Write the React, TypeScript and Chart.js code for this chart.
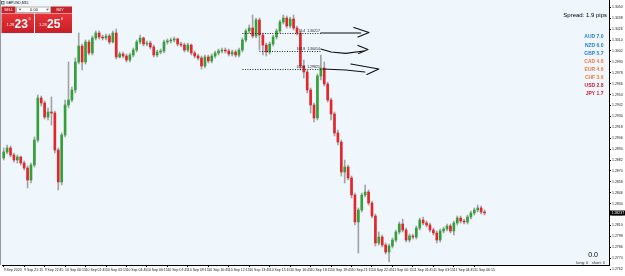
import React, { useEffect, useRef } from 'react';
import { Chart, registerables } from 'chart.js';

Chart.register(...registerables);

const FONT = '"Liberation Sans", Arial, sans-serif';

// ---- data (GBPUSD, M15) ----
const opens = [
  1.28842, 1.28908, 1.28952, 1.28875, 1.28820, 1.28853, 1.28787, 1.28732, 1.28600, 1.28765,
  1.29040, 1.29502, 1.29447, 1.29293, 1.29348, 1.29337, 1.28930, 1.28578, 1.29095, 1.29425,
  1.29480, 1.29590, 1.29898, 1.30074, 1.29898, 1.30118, 1.29997, 1.30162, 1.30217, 1.30173,
  1.30162, 1.30184, 1.30118, 1.30217, 1.29953, 1.29986, 1.29964, 1.29920, 1.29975, 1.30030,
  1.30118, 1.30162, 1.30096, 1.30107, 1.30063, 1.29975, 1.30008, 1.30019, 1.30118, 1.30129,
  1.30140, 1.30151, 1.30096, 1.30085, 1.30030, 1.30085, 1.29997, 1.29964, 1.29942, 1.29854,
  1.29953, 1.29909, 1.29964, 1.29997, 1.30019, 1.30030, 1.30019, 1.29986, 1.30008, 1.29975,
  1.30030, 1.30140, 1.30239, 1.30272, 1.30184, 1.30360, 1.30195, 1.30085, 1.30008, 1.30096,
  1.30173, 1.30239, 1.30338, 1.30382, 1.30294, 1.30371, 1.30272, 1.30217, 1.29854, 1.29788,
  1.29590, 1.29425, 1.29282, 1.29744, 1.29832, 1.29656, 1.29480, 1.29326, 1.29117, 1.29018,
  1.28688, 1.28743, 1.28622, 1.28435, 1.28138, 1.28270, 1.28435, 1.28468, 1.28347, 1.28204,
  1.27907, 1.27973, 1.27885, 1.27808, 1.27874, 1.27940, 1.28028, 1.28116, 1.28050, 1.27940,
  1.27984, 1.27973, 1.28072, 1.28160, 1.28127, 1.28105, 1.28050, 1.28017, 1.27940, 1.28039,
  1.28061, 1.28094, 1.28039, 1.28127, 1.28182, 1.28149, 1.28138, 1.28193, 1.28237, 1.28270,
  1.28292, 1.28248,
];
const highs = [
  1.28952, 1.28985, 1.28974, 1.28897, 1.28875, 1.28864, 1.28809, 1.28754, 1.28787, 1.29073,
  1.29535, 1.29524, 1.29469, 1.29392, 1.29513, 1.29359, 1.28952, 1.29117, 1.29480, 1.29898,
  1.29623, 1.29942, 1.30217, 1.30096, 1.30140, 1.30140, 1.30184, 1.30239, 1.30239, 1.30195,
  1.30206, 1.30206, 1.30239, 1.30261, 1.30008, 1.30008, 1.29986, 1.29997, 1.30052, 1.30140,
  1.30195, 1.30173, 1.30129, 1.30129, 1.30085, 1.30030, 1.30041, 1.30140, 1.30151, 1.30162,
  1.30173, 1.30162, 1.30118, 1.30107, 1.30107, 1.30096, 1.30019, 1.29986, 1.29964, 1.29975,
  1.29975, 1.29986, 1.30019, 1.30041, 1.30052, 1.30052, 1.30041, 1.30030, 1.30030, 1.30052,
  1.30162, 1.30261, 1.30305, 1.30415, 1.30382, 1.30382, 1.30217, 1.30107, 1.30118, 1.30195,
  1.30261, 1.30360, 1.30415, 1.30404, 1.30393, 1.30415, 1.30294, 1.30239, 1.29920, 1.29810,
  1.29612, 1.29447, 1.29766, 1.29975, 1.29898, 1.29678, 1.29502, 1.29348, 1.29150, 1.29040,
  1.28820, 1.28765, 1.28644, 1.28457, 1.28292, 1.28457, 1.28545, 1.28490, 1.28369, 1.28226,
  1.28028, 1.27995, 1.27907, 1.27896, 1.27962, 1.28050, 1.28138, 1.28171, 1.28072, 1.28006,
  1.28006, 1.28094, 1.28182, 1.28193, 1.28149, 1.28127, 1.28072, 1.28039, 1.28061, 1.28083,
  1.28116, 1.28116, 1.28149, 1.28204, 1.28204, 1.28171, 1.28215, 1.28259, 1.28292, 1.28325,
  1.28314, 1.28270,
];
const lows = [
  1.28820, 1.28886, 1.28853, 1.28798, 1.28787, 1.28765, 1.28710, 1.28512, 1.28567, 1.28743,
  1.29018, 1.29414, 1.29271, 1.29260, 1.29205, 1.28897, 1.28490, 1.28545, 1.29073, 1.29392,
  1.29458, 1.29557, 1.29876, 1.29810, 1.29876, 1.29975, 1.29975, 1.30140, 1.30151, 1.30140,
  1.30140, 1.30096, 1.30107, 1.29931, 1.29942, 1.29942, 1.29898, 1.29898, 1.29953, 1.30008,
  1.30096, 1.30074, 1.30074, 1.30041, 1.29953, 1.29953, 1.29986, 1.29997, 1.30096, 1.30107,
  1.30118, 1.30074, 1.30063, 1.30008, 1.30008, 1.29975, 1.29942, 1.29920, 1.29821, 1.29832,
  1.29887, 1.29887, 1.29942, 1.29975, 1.29997, 1.29997, 1.29964, 1.29964, 1.29953, 1.29953,
  1.30008, 1.30118, 1.30217, 1.30162, 1.30162, 1.30030, 1.29975, 1.29964, 1.29986, 1.30074,
  1.30151, 1.30217, 1.30316, 1.30272, 1.30272, 1.30250, 1.30195, 1.29810, 1.29722, 1.29557,
  1.29337, 1.29238, 1.29260, 1.29700, 1.29634, 1.29458, 1.29260, 1.29084, 1.28985, 1.28644,
  1.28567, 1.28600, 1.28402, 1.28105, 1.27797, 1.28248, 1.28413, 1.28325, 1.28182, 1.27874,
  1.27885, 1.27863, 1.27786, 1.27698, 1.27852, 1.27918, 1.28006, 1.28028, 1.27918, 1.27918,
  1.27951, 1.27951, 1.28050, 1.28105, 1.28083, 1.28028, 1.27995, 1.27907, 1.27918, 1.28017,
  1.28039, 1.28017, 1.27995, 1.28105, 1.28127, 1.28116, 1.28116, 1.28171, 1.28215, 1.28248,
  1.28226, 1.28215,
];
const closes = [
  1.28908, 1.28952, 1.28875, 1.28820, 1.28853, 1.28787, 1.28732, 1.28600, 1.28765, 1.29040,
  1.29502, 1.29447, 1.29293, 1.29348, 1.29337, 1.28930, 1.28578, 1.29095, 1.29425, 1.29480,
  1.29590, 1.29898, 1.30074, 1.29898, 1.30118, 1.29997, 1.30162, 1.30217, 1.30173, 1.30162,
  1.30184, 1.30118, 1.30217, 1.29953, 1.29986, 1.29964, 1.29920, 1.29975, 1.30030, 1.30118,
  1.30162, 1.30096, 1.30107, 1.30063, 1.29975, 1.30008, 1.30019, 1.30118, 1.30129, 1.30140,
  1.30151, 1.30096, 1.30085, 1.30030, 1.30085, 1.29997, 1.29964, 1.29942, 1.29854, 1.29953,
  1.29909, 1.29964, 1.29997, 1.30019, 1.30030, 1.30019, 1.29986, 1.30008, 1.29975, 1.30030,
  1.30140, 1.30239, 1.30272, 1.30184, 1.30360, 1.30195, 1.30085, 1.30008, 1.30096, 1.30173,
  1.30239, 1.30338, 1.30382, 1.30294, 1.30371, 1.30272, 1.30217, 1.29854, 1.29788, 1.29590,
  1.29425, 1.29282, 1.29744, 1.29832, 1.29656, 1.29480, 1.29326, 1.29117, 1.29018, 1.28688,
  1.28743, 1.28622, 1.28435, 1.28138, 1.28270, 1.28435, 1.28468, 1.28347, 1.28204, 1.27907,
  1.27973, 1.27885, 1.27808, 1.27874, 1.27940, 1.28028, 1.28116, 1.28050, 1.27940, 1.27984,
  1.27973, 1.28072, 1.28160, 1.28127, 1.28105, 1.28050, 1.28017, 1.27940, 1.28039, 1.28061,
  1.28094, 1.28039, 1.28127, 1.28182, 1.28149, 1.28138, 1.28193, 1.28237, 1.28270, 1.28292,
  1.28248, 1.28237,
];

const timeLabels = [
  '9 Sep 2020', '9 Sep 21:15', '9 Sep 22:45', '10 Sep 00:15', '10 Sep 01:45', '10 Sep 03:15',
  '10 Sep 04:45', '10 Sep 06:15', '10 Sep 07:45', '10 Sep 09:15', '10 Sep 10:45', '10 Sep 12:15',
  '10 Sep 13:45', '10 Sep 15:15', '10 Sep 16:45', '10 Sep 18:15', '10 Sep 19:45', '10 Sep 21:15',
  '10 Sep 22:45', '11 Sep 00:15', '11 Sep 01:45', '11 Sep 03:15', '11 Sep 04:45', '11 Sep 06:15',
];
const LABEL_STEP = 6;
const SLOT_COUNT = 178;

const priceTicks = [
  1.3050, 1.3038, 1.3026, 1.3014, 1.3002, 1.2990, 1.2978, 1.2966, 1.2954, 1.2942, 1.2930, 1.2918,
  1.2906, 1.2894, 1.2882, 1.2870, 1.2858, 1.2846, 1.2834, 1.2822, 1.2810, 1.2798, 1.2786, 1.2774, 1.2762,
];
const Y_MIN = 1.27665;
const Y_MAX = 1.3058;

const bid = '1.28';
const bidPips = '23';
const bidPoint = '5';
const ask = '1.28';
const askPips = '25';
const askPoint = '6';
const lotSize = '0.00';
const spreadText = 'Spread: 1.9 pips';

const fibLevels = [1.30217, 1.30014, 1.29821];
const fibFrom = [70, 75, 70];
const fibTo = [93, 93, 93];
const fibTexts = ['76.4  1.30217', '161.8  1.30014', '100.0  1.29821'];

// hand-drawn arrows: [barIndex, price] points
const arrowStrokes: number[][][] = [
  [[93.0, 1.30217], [104.7, 1.30217]],
  [[102.7, 1.30278], [107.1, 1.30223], [103.9, 1.30173]],
  [[93.0, 1.30041], [96.0, 1.30008], [100.3, 1.29992], [105.6, 1.30019]],
  [[103.9, 1.3008], [106.8, 1.30036], [104.1, 1.29992]],
  [[93.6, 1.29821], [100.3, 1.2981], [105.9, 1.29788]],
  [[101.8, 1.29876], [110.0, 1.29821], [106.5, 1.29761]],
];

const currencies = ['AUD', 'NZD', 'GBP', 'CAD', 'EUR', 'CHF', 'USD', 'JPY'];
const strengths = [7.0, 6.0, 5.7, 4.8, 4.6, 3.6, 2.8, 1.7];
const currencyColors = ['#2a7fd0', '#2a7fd0', '#2a7fd0', '#f07a3c', '#f07a3c', '#f0803c', '#cf1b2b', '#cf1b2b'];

const profitText = '0.0';
const positionsText = 'long: 0   short: 0';
const symbolText = 'GBPUSD,M15';

const UP = '#34a03a';
const DOWN = '#e3262c';
const WICK = '#a3a3a3';

const bgPlugin = {
  id: 'bgPlugin',
  beforeDraw(chart: any) {
    const { ctx, chartArea: a } = chart;
    ctx.save();
    ctx.fillStyle = '#eff6fc';
    ctx.fillRect(0, 0, a.right, a.bottom);
    ctx.restore();
  },
};

const overlayPlugin = {
  id: 'overlayPlugin',
  afterDatasetsDraw(chart: any) {
    const { ctx } = chart;
    const xs = chart.scales.x;
    const ys = chart.scales.y;
    const px = (i: number) => xs.getPixelForValue(i);
    const py = (v: number) => ys.getPixelForValue(v);
    ctx.save();
    ctx.strokeStyle = '#222';
    ctx.lineWidth = 1;
    ctx.setLineDash([1, 1.5]);
    fibLevels.forEach((lv, k) => {
      const y = Math.round(py(lv)) + 0.5;
      ctx.beginPath();
      ctx.moveTo(px(fibFrom[k]), y);
      ctx.lineTo(px(fibTo[k]), y);
      ctx.stroke();
    });
    ctx.setLineDash([]);
    ctx.font = `3.5px ${FONT}`;
    ctx.fillStyle = '#222';
    ctx.textAlign = 'right';
    ctx.textBaseline = 'bottom';
    fibLevels.forEach((lv, k) => ctx.fillText(fibTexts[k], px(fibTo[k]) - 1, py(lv) - 0.5));

    ctx.strokeStyle = '#111';
    ctx.lineWidth = 1.2;
    ctx.lineJoin = 'round';
    ctx.lineCap = 'round';
    arrowStrokes.forEach((pts) => {
      ctx.beginPath();
      pts.forEach(([i, v], j) => (j ? ctx.lineTo(px(i), py(v)) : ctx.moveTo(px(i), py(v))));
      ctx.stroke();
    });
    ctx.restore();
  },
  afterDraw(chart: any) {
    const { ctx, chartArea: a } = chart;
    const ys = chart.scales.y;
    ctx.save();
    // left border
    ctx.strokeStyle = '#9a9a9a';
    ctx.lineWidth = 1;
    ctx.beginPath();
    ctx.moveTo(0.5, 0);
    ctx.lineTo(0.5, a.bottom);
    ctx.stroke();

    // symbol
    ctx.strokeStyle = '#777';
    ctx.strokeRect(1.5, 1.5, 2.5, 2.5);
    ctx.fillStyle = '#111';
    ctx.font = `3.5px ${FONT}`;
    ctx.textAlign = 'left';
    ctx.textBaseline = 'middle';
    ctx.fillText(symbolText, 6, 3.3);

    // trade panel
    ctx.fillStyle = '#c8232a';
    ctx.fillRect(1.5, 6.5, 14, 6.5);
    ctx.fillRect(51, 6.5, 21, 6.5);
    ctx.fillStyle = '#ffffff';
    ctx.fillRect(16, 6.5, 35, 6.5);
    ctx.strokeStyle = '#b0b0b0';
    ctx.strokeRect(16.5, 7, 34, 5.5);
    ctx.fillStyle = '#666';
    ctx.beginPath(); ctx.moveTo(18.5, 8.8); ctx.lineTo(21.5, 8.8); ctx.lineTo(20, 10.8); ctx.closePath(); ctx.fill();
    ctx.beginPath(); ctx.moveTo(46, 8.8); ctx.lineTo(49, 8.8); ctx.lineTo(47.5, 10.8); ctx.closePath(); ctx.fill();
    ctx.fillStyle = '#222';
    ctx.font = `4px ${FONT}`;
    ctx.textAlign = 'center';
    ctx.fillText(lotSize, 34, 9.9);
    ctx.fillStyle = '#fff';
    ctx.font = `3.5px ${FONT}`;
    ctx.fillText('SELL', 8.5, 9.9);
    ctx.fillText('BUY', 60, 9.9);

    const g = ctx.createLinearGradient(0, 13.5, 0, 33);
    g.addColorStop(0, '#e8343a');
    g.addColorStop(1, '#c81e26');
    ctx.fillStyle = g;
    ctx.fillRect(1.5, 13.5, 32.5, 19.5);
    ctx.fillRect(35, 13.5, 37, 19.5);
    ctx.fillStyle = '#fff';
    ctx.textAlign = 'left';
    ctx.textBaseline = 'alphabetic';
    ctx.font = `4px ${FONT}`;
    ctx.fillText(bid, 6.5, 25.5);
    ctx.fillText(ask, 39, 25.5);
    ctx.font = `bold 12px ${FONT}`;
    ctx.fillText(bidPips, 14.5, 27.5);
    ctx.fillText(askPips, 47, 27.5);
    ctx.font = `4px ${FONT}`;
    ctx.fillText(bidPoint, 28.5, 19.5);
    ctx.fillText(askPoint, 61, 19.5);

    // spread
    ctx.fillStyle = '#000';
    ctx.font = `6px ${FONT}`;
    ctx.textAlign = 'right';
    ctx.textBaseline = 'middle';
    ctx.fillText(spreadText, 607, 15.5);

    // currency strength
    ctx.font = `bold 5px ${FONT}`;
    currencies.forEach((c, k) => {
      ctx.fillStyle = currencyColors[k];
      ctx.fillText(`${c} ${strengths[k].toFixed(1)}`, 603.5, 37 + 8.15 * k);
    });

    // profit / positions
    ctx.fillStyle = '#000';
    ctx.font = `7px ${FONT}`;
    ctx.fillText(profitText, 598, 255.5);
    ctx.fillStyle = '#333';
    ctx.font = `4px ${FONT}`;
    ctx.fillText(positionsText, 605, 262.5);

    // current price label
    const last = closes[closes.length - 1];
    const yl = ys.getPixelForValue(last);
    ctx.fillStyle = '#000';
    ctx.fillRect(610, yl - 2.5, 15, 5);
    ctx.fillStyle = '#fff';
    ctx.font = `3.5px ${FONT}`;
    ctx.textAlign = 'left';
    ctx.fillText(last.toFixed(5), 611.5, yl + 0.2);
    ctx.restore();
  },
};

export default function App() {
  const ref = useRef<HTMLCanvasElement | null>(null);
  useEffect(() => {
    if (!ref.current) return;
    const slotLabels = Array.from({ length: SLOT_COUNT }, (_, i) => String(i));
    const wickData = lows.map((l, i) => [l, highs[i]]);
    const bodyData = opens.map((o, i) => [o, closes[i]]);
    const bodyColors = opens.map((o, i) => (closes[i] >= o ? UP : DOWN));
    const chart = new Chart(ref.current, {
      type: 'bar',
      data: {
        labels: slotLabels,
        datasets: [
          {
            data: bodyData as any,
            backgroundColor: bodyColors,
            barThickness: 2,
            minBarLength: 1,
            grouped: false,
            borderWidth: 0,
            order: 0,
          },
          {
            data: wickData as any,
            backgroundColor: WICK,
            barThickness: 1,
            grouped: false,
            borderWidth: 0,
            order: 1,
          },
        ],
      },
      options: {
        responsive: false,
        animation: false,
        events: [],
        layout: { padding: { left: 2, right: 0, top: 0, bottom: 0 } },
        plugins: { legend: { display: false }, tooltip: { enabled: false } },
        scales: {
          x: {
            type: 'category',
            offset: true,
            afterFit: (s: any) => {
              s.height = 11;
              s.paddingLeft = 0;
              s.paddingRight = 0;
            },
            grid: {
              drawOnChartArea: false,
              drawTicks: true,
              tickLength: 2,
              offset: false,
              color: (c: any) =>
                c.index % LABEL_STEP === 0 && c.index / LABEL_STEP < timeLabels.length ? '#000' : 'rgba(0,0,0,0)',
            },
            border: { display: true, color: '#000' },
            ticks: {
              autoSkip: false,
              maxRotation: 0,
              minRotation: 0,
              align: 'start',
              padding: 0.5,
              color: '#222',
              font: { size: 3.5, family: FONT },
              callback: (_v: any, i: number) =>
                i % LABEL_STEP === 0 ? timeLabels[i / LABEL_STEP] ?? '' : '',
            },
          },
          y: {
            position: 'right',
            min: Y_MIN,
            max: Y_MAX,
            afterBuildTicks: (s: any) => {
              s.ticks = priceTicks.map((v) => ({ value: v }));
            },
            afterFit: (s: any) => {
              s.width = 16;
              s.paddingTop = 0;
              s.paddingBottom = 0;
            },
            grid: { drawOnChartArea: false, drawTicks: true, tickLength: 2, color: '#000' },
            border: { display: true, color: '#000' },
            ticks: {
              autoSkip: false,
              padding: 1,
              color: '#222',
              font: { size: 3.5, family: FONT },
              callback: (v: any) => Number(v).toFixed(4),
            },
          },
        },
      },
      plugins: [bgPlugin, overlayPlugin],
    } as any);
    return () => chart.destroy();
  }, []);
  return (
    <div style={{ position: 'fixed', left: 0, top: 0, width: 625, height: 276, background: '#fff' }}>
      <canvas ref={ref} width={625} height={276} style={{ display: 'block' }} />
    </div>
  );
}
